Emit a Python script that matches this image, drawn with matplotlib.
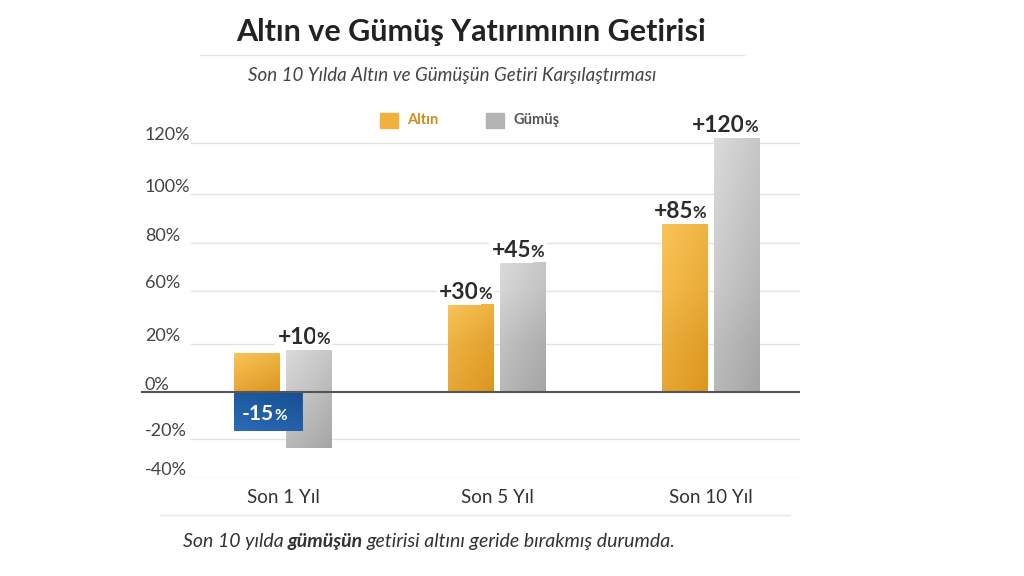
import numpy as np
import matplotlib
matplotlib.use('Agg')
import matplotlib.pyplot as plt
from matplotlib.colors import LinearSegmentedColormap
from matplotlib.patches import Rectangle
from matplotlib.lines import Line2D

plt.rcParams['font.family'] = ['Lato', 'DejaVu Sans']

# data
categories = ['Son 1 Yıl', 'Son 5 Yıl', 'Son 10 Yıl']
altin_bar = [16, 50, 88]          # orange bar tops (%)
altin_neg = [-16.5, 0, 0]         # blue box (negative return)
gumus_top = [17.5, 72, 122]       # gray bar tops (%)
gumus_bottom = [-24.5, 0, 0]
altin_labels = ['-15', '+30', '+85']
gumus_labels = ['+10', '+45', '+120']

# the y axis in the picture is not linear: tick values and where they sit
tick_pct = [-40, -20, 0, 20, 60, 80, 100, 120]
tick_pos = [-35, -19, 0, 20, 41.5, 61, 81, 102]
tick_text = ['-40%', '-20%', '0%', '20%', '60%', '80%', '100%', '120%']

s_lo = (tick_pos[1] - tick_pos[0]) / (tick_pct[1] - tick_pct[0])
s_hi = (tick_pos[-1] - tick_pos[-2]) / (tick_pct[-1] - tick_pct[-2])


def fwd(v):
    v = np.asarray(v, dtype=float)
    out = np.interp(v, tick_pct, tick_pos)
    out = np.where(v < tick_pct[0], tick_pos[0] + (v - tick_pct[0]) * s_lo, out)
    out = np.where(v > tick_pct[-1], tick_pos[-1] + (v - tick_pct[-1]) * s_hi, out)
    return out


def inv(p):
    p = np.asarray(p, dtype=float)
    out = np.interp(p, tick_pos, tick_pct)
    out = np.where(p < tick_pos[0], tick_pct[0] + (p - tick_pos[0]) / s_lo, out)
    out = np.where(p > tick_pos[-1], tick_pct[-1] + (p - tick_pos[-1]) / s_hi, out)
    return out


def gradient_fill(ax, patch, c1, c2):
    # diagonal gradient, light top-left -> dark bottom-right
    x0, y0 = patch.get_x(), patch.get_y()
    w, h = patch.get_width(), patch.get_height()
    xx, yy = np.meshgrid(np.linspace(0, 1, 40), np.linspace(0, 1, 40))
    t = (xx * 0.6 + (1 - yy)) / 1.6
    cmap = LinearSegmentedColormap.from_list('g', [c1, c2])
    im = ax.imshow(t, extent=[x0, x0 + w, y0, y0 + h], origin='lower',
                   cmap=cmap, aspect='auto', interpolation='bilinear',
                   zorder=patch.get_zorder() + 0.1)
    im.set_clip_path(patch)


W, H = 1024, 576
fig = plt.figure(figsize=(10.24, 5.76), dpi=100)
fig.patch.set_facecolor('white')

ax = fig.add_axes([140 / W, 1 - 478 / H, 660 / W, 368 / H])
ax.set_yscale('function', functions=(fwd, inv))

x = np.arange(len(categories))
bw = 0.215
off = 0.1215

# gridlines
for v in tick_pct:
    if v == 0:
        continue
    ax.hlines(v, -0.435, 2.416, color='#e3e3e3', lw=1, zorder=1)
ax.hlines(0, -0.664, 2.416, color='#555555', lw=1.5, zorder=6)

# gray bars
gb = ax.bar(x + off, np.array(gumus_top) - np.array(gumus_bottom), bw,
            bottom=gumus_bottom, color='#c4c4c4', zorder=3)
for p in gb:
    gradient_fill(ax, p, '#dadada', '#a5a5a5')

# orange bars
ob = ax.bar(x - off, altin_bar, bw, color='#f2b13c', zorder=3)
for p in ob:
    gradient_fill(ax, p, '#f9c457', '#dc961f')

# blue box for the negative gold return
for i, v in enumerate(altin_neg):
    if v < 0:
        bb = ax.bar(x[i] - off - bw / 2, v, 0.322, align='edge',
                    color='#1f5ea8', zorder=5)
        gradient_fill(ax, bb[0], '#2a6cb6', '#174f93')
        ax.annotate(altin_labels[i], (x[i] - off - bw / 2 + 0.161, v / 2),
                    xytext=(4, -6), textcoords='offset points',
                    ha='right', va='baseline', color='white', fontsize=15,
                    fontweight='bold', zorder=8)
        ax.annotate('%', (x[i] - off - bw / 2 + 0.161, v / 2),
                    xytext=(4, -6), textcoords='offset points',
                    ha='left', va='baseline', color='white', fontsize=11,
                    fontweight='bold', zorder=8)


def value_label(xc, top, num):
    box = dict(facecolor='white', edgecolor='none', pad=1.5)
    ax.annotate(num, (xc, top), xytext=(6, 4), textcoords='offset points',
                ha='right', va='baseline', fontsize=16.5, fontweight='bold',
                color='#2b2b2b', zorder=7, bbox=box)
    ax.annotate('%', (xc, top), xytext=(5.5, 4), textcoords='offset points',
                ha='left', va='baseline', fontsize=12, fontweight='bold',
                color='#2b2b2b', zorder=7, bbox=box)


for i in range(len(categories)):
    if not altin_labels[i].startswith('-'):
        value_label(x[i] - off, altin_bar[i], altin_labels[i])
    value_label(x[i] + off, gumus_top[i], gumus_labels[i])

# y tick labels sit just above their lines
for v, t in zip(tick_pct, tick_text):
    ax.annotate(t, (-0.645, v), xytext=(0, 2), textcoords='offset points',
                ha='left', va='baseline', fontsize=13, color='#444444')

ax.set_xlim(-0.668, 2.416)
ax.set_ylim(-40, 132.9)
ax.set_yticks([])
ax.set_xticks(x)
ax.set_xticklabels(categories, fontsize=13.5, color='#333333')
ax.tick_params(axis='x', length=0, pad=8)
for s in ax.spines.values():
    s.set_visible(False)

# titles
fig.text(471 / W, 1 - 32 / H, 'Altın ve Gümüş Yatırımının Getirisi',
         ha='center', va='center', fontsize=22, fontweight='bold', color='#222222')
fig.add_artist(Line2D([200 / W, 745 / W], [1 - 55 / H, 1 - 55 / H],
                      color='#e6e6e6', lw=1))
fig.text(452 / W, 1 - 75 / H, 'Son 10 Yılda Altın ve Gümüşün Getiri Karşılaştırması',
         ha='center', va='center', fontsize=13.5, style='italic', color='#444444')

# legend
fig.add_artist(Rectangle((380 / W, 1 - 128 / H), 18 / W, 15 / H,
                         color='#f2b13c', transform=fig.transFigure))
fig.text(407 / W, 1 - 120 / H, 'Altın', ha='left', va='center', fontsize=10.5,
         fontweight='bold', color='#d08c1c')
fig.add_artist(Rectangle((486 / W, 1 - 128 / H), 18 / W, 15 / H,
                         color='#b4b4b4', transform=fig.transFigure))
fig.text(513 / W, 1 - 120 / H, 'Gümüş', ha='left', va='center', fontsize=10.5,
         fontweight='bold', color='#555555')

# separator and footnote
fig.add_artist(Line2D([160 / W, 790 / W], [1 - 515 / H, 1 - 515 / H],
                      color='#e6e6e6', lw=1))
renderer = fig.canvas.get_renderer()
parts = [('Son 10 yılda', 'normal'), ('gümüşün', 'bold'),
         ('getirisi altını geride bırakmış durumda.', 'normal')]
xpos = 183
for txt, wt in parts:
    t = fig.text(xpos / W, 1 - 541 / H, txt, ha='left', va='center',
                 fontsize=14, style='italic', fontweight=wt, color='#333333')
    xpos += t.get_window_extent(renderer).width + 4

fig.savefig('out.png', dpi=100)
